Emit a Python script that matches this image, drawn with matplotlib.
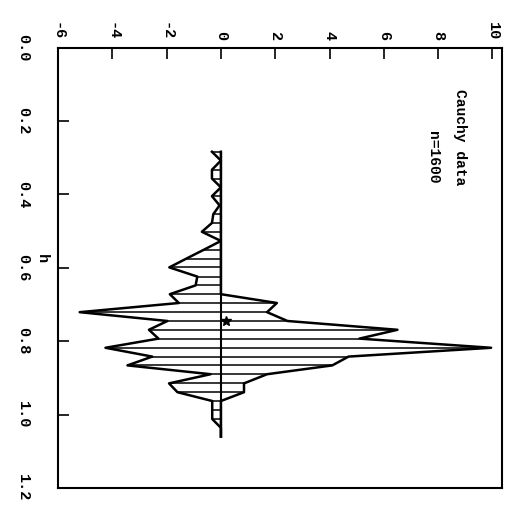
import numpy as np
import matplotlib
matplotlib.use("Agg")
import matplotlib.pyplot as plt

# bandwidth grid (h) and the lower / upper curves
h = np.array([0.284, 0.308, 0.333, 0.357, 0.381, 0.405, 0.430, 0.454,
              0.478, 0.502, 0.527, 0.551, 0.575, 0.599, 0.624, 0.648,
              0.672, 0.696, 0.721, 0.745, 0.769, 0.793, 0.818, 0.842,
              0.866, 0.890, 0.915, 0.939, 0.963, 0.987, 1.012, 1.036,
              1.060])
lower = np.array([-0.33, 0.0, -0.33, -0.33, 0.0, -0.33, -0.05, -0.28,
                  -0.33, -0.70, 0.0, -0.63, -1.27, -1.90, -0.87, -0.93,
                  -1.88, -1.55, -5.20, -1.97, -2.65, -2.30, -4.25, -2.53,
                  -3.44, -0.38, -1.91, -1.60, -0.32, -0.32, -0.32, 0.0,
                  0.0])
upper = np.array([0.0, 0.0, 0.0, 0.0, 0.0, 0.0, 0.0, 0.0,
                  0.0, 0.0, 0.0, 0.0, 0.0, 0.0, 0.0, 0.0,
                  0.0, 2.06, 1.70, 2.45, 6.50, 5.10, 9.95, 4.70,
                  4.10, 1.70, 0.85, 0.85, 0.0, 0.0, 0.0, 0.0,
                  0.0])
best_h = [0.745]
best_v = [0.17]

val_ticks = [-6, -4, -2, 0, 2, 4, 6, 8, 10]
val_labels = ['-6', '-4', '-2', '0', '2', '4', '6', '8', '10']
h_ticks = [0.0, 0.2, 0.4, 0.6, 0.8, 1.0, 1.2]
h_labels = ['0.0', '0.2', '0.4', '0.6', '0.8', '1.0', '1.2']

font = 'Liberation Mono'

fig = plt.figure(figsize=(5.14, 5.18), dpi=100)
ax = fig.add_axes([0.1128, 0.0579, 0.8638, 0.8504])

# page is turned a quarter: values run left->right, h runs top->bottom
ax.hlines(h, lower, upper, color='black', lw=1.1)
ax.plot(lower, h, color='black', lw=1.8)
ax.plot(upper, h, color='black', lw=1.8)
ax.vlines(0, h.min(), h.max(), color='black', lw=1.5)
ax.plot(best_v, best_h, marker='*', color='black', ms=7, ls='none')

ax.set_xlim(-6, 10.35)
ax.set_ylim(1.2, 0)

ax.xaxis.tick_top()
ax.set_xticks(val_ticks)
ax.set_xticklabels(val_labels, rotation=-90, family=font,
                   fontweight='bold', fontsize=11)
ax.set_yticks(h_ticks)
ax.set_yticklabels(h_labels, rotation=-90, family=font,
                   fontweight='bold', fontsize=11, va='center')
ax.tick_params(axis='both', direction='in', length=8, width=1.2)
ax.tick_params(axis='x', pad=5)
ax.tick_params(axis='y', pad=20)
for sp in ax.spines.values():
    sp.set_linewidth(1.5)

ax.text(-0.036, 0.52, 'h', transform=ax.transAxes, rotation=-90,
        ha='center', va='center', family=font, fontweight='bold',
        fontsize=11)
ax.text(8.8, 0.245, 'Cauchy data', rotation=-90, ha='center', va='center',
        family=font, fontweight='bold', fontsize=10.5)
ax.text(7.8, 0.30, 'n=1600', rotation=-90, ha='center', va='center',
        family=font, fontweight='bold', fontsize=10.5)

fig.savefig('out.png', dpi=100)
